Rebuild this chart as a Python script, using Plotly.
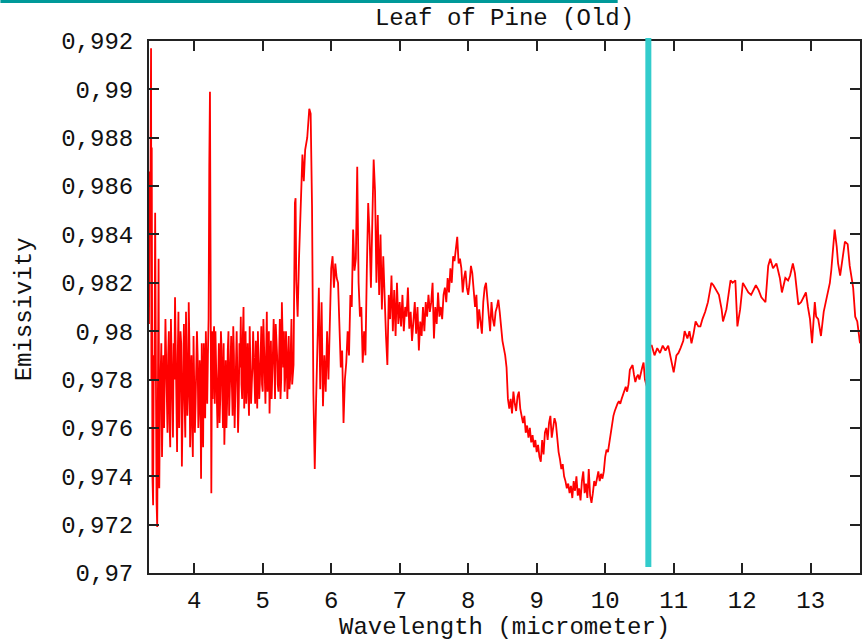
import plotly.graph_objects as go

# ---- data: (wavelength [micrometer], emissivity) ----
band_a = [
    (3.34, 0.9803), (3.35, 0.9866), (3.36, 0.9850), (3.37, 0.9917), (3.375, 0.9780),
    (3.38, 0.9876), (3.39, 0.9740), (3.40, 0.9728), (3.41, 0.9790), (3.42, 0.9780),
    (3.43, 0.9849), (3.44, 0.9750), (3.45, 0.9730), (3.46, 0.9719), (3.47, 0.9760),
    (3.48, 0.9830), (3.49, 0.9735), (3.50, 0.9770), (3.52, 0.9795), (3.53, 0.9748),
    (3.55, 0.9790), (3.56, 0.9760), (3.58, 0.9805), (3.60, 0.9772),
]
band_b = [
    (3.62, 0.9790), (3.64, 0.9762), (3.66, 0.9805), (3.68, 0.9770), (3.70, 0.9795),
    (3.72, 0.9814), (3.74, 0.9768), (3.76, 0.9790), (3.78, 0.9760), (3.80, 0.9800),
    (3.82, 0.9744), (3.84, 0.9785), (3.86, 0.9770), (3.88, 0.9808), (3.90, 0.9765),
    (3.92, 0.9812), (3.94, 0.9752), (3.96, 0.9790), (3.98, 0.9748), (4.00, 0.9782),
    (4.02, 0.9770), (4.04, 0.9800), (4.06, 0.9760), (4.08, 0.9788), (4.10, 0.9739),
    (4.12, 0.9775), (4.14, 0.9795), (4.16, 0.9764), (4.18, 0.9790), (4.20, 0.9790),
    (4.22, 0.9868), (4.23, 0.9899), (4.24, 0.9820), (4.25, 0.9733), (4.26, 0.9800),
    (4.28, 0.9795), (4.30, 0.9770),
]
band_b_fill = [
    (3.61, 0.9758), (3.63, 0.9800), (3.65, 0.9752), (3.67, 0.9790), (3.69, 0.9756),
    (3.71, 0.9780), (3.73, 0.9798), (3.75, 0.9750), (3.77, 0.9808), (3.79, 0.9775),
    (3.81, 0.9795), (3.83, 0.9766), (3.85, 0.9803), (3.87, 0.9756), (3.89, 0.9788),
    (3.91, 0.9774), (3.93, 0.9795), (3.95, 0.9780), (3.97, 0.9760), (3.99, 0.9798),
    (4.01, 0.9758), (4.03, 0.9785), (4.05, 0.9790), (4.07, 0.9768), (4.09, 0.9780),
    (4.11, 0.9795), (4.13, 0.9752), (4.15, 0.9778), (4.17, 0.9800), (4.19, 0.9770),
    (4.21, 0.9805), (4.27, 0.9772), (4.29, 0.9802),
]
band_c = [
    (4.32, 0.9785), (4.34, 0.9760), (4.36, 0.9795), (4.38, 0.9772), (4.40, 0.9792),
    (4.42, 0.9760), (4.44, 0.9753), (4.46, 0.9788), (4.48, 0.9770), (4.50, 0.9800),
    (4.52, 0.9775), (4.54, 0.9798), (4.56, 0.9765), (4.58, 0.9790), (4.60, 0.9771),
    (4.62, 0.9800), (4.64, 0.9758), (4.66, 0.9795), (4.68, 0.9806), (4.70, 0.9772),
    (4.72, 0.9810), (4.74, 0.9780), (4.76, 0.9770), (4.78, 0.9795), (4.80, 0.9765),
    (4.82, 0.9790), (4.84, 0.9778), (4.86, 0.9800), (4.88, 0.9775), (4.90, 0.9796),
    (4.92, 0.9768), (4.94, 0.9788), (4.96, 0.9780), (4.98, 0.9802), (5.00, 0.9775),
    (5.02, 0.9795), (5.04, 0.9770), (5.06, 0.9808), (5.08, 0.9785), (5.10, 0.9766),
    (5.12, 0.9796), (5.14, 0.9780), (5.16, 0.9805), (5.18, 0.9772), (5.20, 0.9798),
    (5.22, 0.9778), (5.24, 0.9790), (5.26, 0.9772), (5.28, 0.9812), (5.30, 0.9785),
    (5.32, 0.9775), (5.34, 0.9800), (5.36, 0.9772), (5.38, 0.9798), (5.40, 0.9780),
    (5.42, 0.9805), (5.44, 0.9786),
]
band_c_fill = [
    (4.31, 0.9800), (4.33, 0.9770), (4.35, 0.9780), (4.37, 0.9762), (4.39, 0.9800),
    (4.41, 0.9775), (4.43, 0.9795), (4.45, 0.9768), (4.47, 0.9760), (4.49, 0.9792),
    (4.51, 0.9765), (4.53, 0.9790), (4.55, 0.9778), (4.57, 0.9802), (4.59, 0.9760),
    (4.61, 0.9788), (4.63, 0.9782), (4.65, 0.9770), (4.67, 0.9785), (4.69, 0.9778),
    (4.71, 0.9798), (4.73, 0.9768), (4.75, 0.9800), (4.77, 0.9788), (4.79, 0.9775),
    (4.81, 0.9802), (4.83, 0.9770), (4.85, 0.9785), (4.87, 0.9790), (4.89, 0.9770),
    (4.91, 0.9782), (4.93, 0.9800), (4.95, 0.9772), (4.97, 0.9790), (4.99, 0.9778),
    (5.01, 0.9805), (5.03, 0.9780), (5.05, 0.9790), (5.07, 0.9775), (5.09, 0.9800),
    (5.11, 0.9785), (5.13, 0.9772), (5.15, 0.9792), (5.17, 0.9786), (5.19, 0.9803),
    (5.21, 0.9790), (5.23, 0.9775), (5.25, 0.9805), (5.27, 0.9780), (5.29, 0.9795),
    (5.31, 0.9800), (5.33, 0.9782), (5.35, 0.9790), (5.37, 0.9785), (5.39, 0.9776),
    (5.41, 0.9792), (5.43, 0.9778),
]
band_d = [
    (5.45, 0.9786), (5.47, 0.9853), (5.48, 0.9855), (5.49, 0.9821), (5.51, 0.9806),
    (5.53, 0.9830), (5.55, 0.9851), (5.58, 0.9873), (5.60, 0.9862), (5.62, 0.9875),
    (5.65, 0.9880), (5.68, 0.9892), (5.70, 0.9890), (5.72, 0.9852), (5.74, 0.9774),
    (5.76, 0.9743), (5.78, 0.9772), (5.80, 0.9800), (5.82, 0.9818), (5.84, 0.9776),
    (5.86, 0.9812), (5.88, 0.9769), (5.90, 0.9790), (5.92, 0.9775), (5.94, 0.9800),
    (5.96, 0.9780), (5.98, 0.9807), (6.00, 0.9826), (6.02, 0.9831), (6.04, 0.9818),
    (6.06, 0.9828), (6.08, 0.9822), (6.10, 0.9820), (6.12, 0.9800), (6.14, 0.9785),
    (6.16, 0.9792), (6.18, 0.9762), (6.20, 0.9780), (6.22, 0.9787), (6.24, 0.9800),
    (6.26, 0.9790), (6.28, 0.9815), (6.30, 0.9810), (6.32, 0.9842), (6.34, 0.9825),
    (6.36, 0.9830), (6.38, 0.9868), (6.40, 0.9820), (6.42, 0.9806), (6.44, 0.9810),
    (6.46, 0.9787), (6.48, 0.9800), (6.50, 0.9790), (6.52, 0.9825), (6.54, 0.9853),
    (6.56, 0.9840), (6.58, 0.9818), (6.60, 0.9845), (6.62, 0.9871), (6.64, 0.9858),
    (6.66, 0.9820), (6.68, 0.9848), (6.70, 0.9815), (6.72, 0.9840), (6.74, 0.9809),
    (6.76, 0.9831), (6.78, 0.9812), (6.80, 0.9798), (6.82, 0.9786), (6.84, 0.9815),
    (6.86, 0.9805), (6.88, 0.9823), (6.90, 0.9800), (6.92, 0.9817), (6.94, 0.9798),
    (6.96, 0.9820), (6.98, 0.9803),
]
band_e = [
    (7.00, 0.9812), (7.02, 0.9802), (7.04, 0.9815), (7.06, 0.9800), (7.08, 0.9810),
    (7.10, 0.9806), (7.12, 0.9818), (7.14, 0.9801), (7.16, 0.9808), (7.18, 0.9796),
    (7.20, 0.9805), (7.22, 0.9812), (7.24, 0.9799), (7.26, 0.9810), (7.28, 0.9792),
    (7.30, 0.9804), (7.32, 0.9798), (7.34, 0.9810), (7.36, 0.9800), (7.38, 0.9812),
    (7.40, 0.9806), (7.42, 0.9815), (7.44, 0.9808), (7.46, 0.9812), (7.48, 0.9820),
    (7.50, 0.9797), (7.52, 0.9810), (7.54, 0.9803), (7.56, 0.9816), (7.58, 0.9806),
    (7.60, 0.9810), (7.62, 0.9805), (7.64, 0.9815), (7.66, 0.9818), (7.68, 0.9812),
    (7.70, 0.9822), (7.72, 0.9816), (7.74, 0.9826), (7.76, 0.9820), (7.78, 0.9831),
    (7.80, 0.9829), (7.82, 0.9835), (7.84, 0.9839), (7.86, 0.9828), (7.88, 0.9830),
    (7.90, 0.9826), (7.92, 0.9816), (7.94, 0.9822), (7.96, 0.9825), (7.98, 0.9818),
]
band_f = [
    (8.00, 0.9815), (8.02, 0.9820), (8.04, 0.9827), (8.06, 0.9824), (8.08, 0.9815),
    (8.10, 0.9810), (8.12, 0.9815), (8.14, 0.9801), (8.16, 0.9809), (8.18, 0.9803),
    (8.20, 0.9799), (8.22, 0.9812), (8.24, 0.9818), (8.26, 0.9820), (8.28, 0.9812),
    (8.30, 0.9806), (8.32, 0.9800), (8.34, 0.9812), (8.36, 0.9805), (8.38, 0.9802),
    (8.40, 0.9808), (8.42, 0.9810), (8.44, 0.9813), (8.46, 0.9808), (8.48, 0.9800),
    (8.50, 0.9796), (8.52, 0.9793), (8.54, 0.9790), (8.56, 0.9785), (8.58, 0.9772),
    (8.60, 0.9768), (8.62, 0.9772), (8.64, 0.9766), (8.66, 0.9775), (8.68, 0.9770),
    (8.70, 0.9767), (8.72, 0.9773), (8.74, 0.9775), (8.76, 0.9768), (8.78, 0.9765),
    (8.80, 0.9762), (8.82, 0.9765), (8.84, 0.9758), (8.86, 0.9761), (8.88, 0.9756),
    (8.90, 0.9760), (8.92, 0.9754), (8.94, 0.9757), (8.96, 0.9752), (8.98, 0.9755),
]
band_g = [
    (9.00, 0.9750), (9.02, 0.9753), (9.04, 0.9748), (9.06, 0.9746), (9.08, 0.9755),
    (9.10, 0.9749), (9.12, 0.9758), (9.14, 0.9760), (9.16, 0.9755), (9.18, 0.9762),
    (9.20, 0.9765), (9.22, 0.9756), (9.24, 0.9760), (9.26, 0.9764), (9.28, 0.9762),
    (9.30, 0.9755), (9.32, 0.9750), (9.34, 0.9747), (9.36, 0.9743), (9.38, 0.9745),
    (9.40, 0.9740), (9.42, 0.9738), (9.44, 0.9735), (9.46, 0.9737), (9.48, 0.9733),
    (9.50, 0.9736), (9.52, 0.9731), (9.54, 0.9738), (9.56, 0.9734), (9.58, 0.9740),
    (9.60, 0.9732), (9.62, 0.9735), (9.64, 0.9730), (9.66, 0.9738), (9.68, 0.9742),
    (9.70, 0.9733), (9.72, 0.9737), (9.74, 0.9731), (9.76, 0.9743), (9.78, 0.9732),
    (9.80, 0.9729), (9.82, 0.9733), (9.84, 0.9738), (9.86, 0.9736), (9.88, 0.9740),
    (9.90, 0.9742), (9.92, 0.9738), (9.94, 0.9741), (9.96, 0.9739), (9.98, 0.9742),
]
band_h = [
    (10.00, 0.9748), (10.02, 0.9751), (10.04, 0.9750), (10.06, 0.9754), (10.08, 0.9758),
    (10.10, 0.9762), (10.12, 0.9765), (10.14, 0.9767), (10.16, 0.9769), (10.18, 0.9770),
    (10.20, 0.9771), (10.22, 0.9770), (10.24, 0.9772), (10.26, 0.9774), (10.28, 0.9776),
    (10.30, 0.9777), (10.32, 0.9775), (10.34, 0.9778), (10.36, 0.9784), (10.38, 0.9785),
    (10.40, 0.9786), (10.42, 0.9782), (10.44, 0.9779), (10.46, 0.9781), (10.48, 0.9782),
    (10.50, 0.9780), (10.52, 0.9783), (10.54, 0.9785), (10.56, 0.9787), (10.58, 0.9780),
    (10.60, 0.9778), (10.62, 0.9776), (10.64, 0.9790), (10.66, 0.9794),
]
band_i = [
    (10.68, 0.9794), (10.72, 0.9790), (10.76, 0.9793), (10.80, 0.9791), (10.84, 0.9794),
    (10.88, 0.9792), (10.92, 0.9794), (10.96, 0.9789), (11.00, 0.9783), (11.04, 0.9790),
    (11.07, 0.9791), (11.10, 0.9793), (11.14, 0.9796), (11.16, 0.9800), (11.20, 0.9797),
    (11.23, 0.9800), (11.26, 0.9795), (11.29, 0.9799), (11.32, 0.9804), (11.36, 0.9802),
    (11.39, 0.9802), (11.42, 0.9805), (11.46, 0.9808), (11.50, 0.9812), (11.53, 0.9817),
    (11.55, 0.9820), (11.58, 0.9819), (11.62, 0.9817), (11.66, 0.9815), (11.70, 0.9809),
    (11.72, 0.9804), (11.75, 0.9807), (11.77, 0.9809), (11.80, 0.9815), (11.83, 0.9821),
    (11.86, 0.9820), (11.90, 0.9821), (11.93, 0.9802), (11.97, 0.9809), (12.01, 0.9820),
]
band_j = [
    (12.05, 0.9818), (12.09, 0.9816), (12.13, 0.9815), (12.16, 0.9817), (12.20, 0.9819),
    (12.24, 0.9817), (12.28, 0.9814), (12.31, 0.9813), (12.34, 0.9812), (12.38, 0.9827),
    (12.41, 0.9830), (12.45, 0.9826), (12.50, 0.9828), (12.55, 0.9822), (12.58, 0.9816),
    (12.63, 0.9822), (12.67, 0.9821), (12.70, 0.9823), (12.74, 0.9828), (12.77, 0.9824),
    (12.82, 0.9811), (12.86, 0.9812), (12.90, 0.9814), (12.93, 0.9816), (12.96, 0.9810),
    (12.99, 0.9805), (13.02, 0.9795), (13.06, 0.9812), (13.08, 0.9806), (13.11, 0.9805),
    (13.15, 0.9798), (13.19, 0.9808), (13.22, 0.9812), (13.25, 0.9816), (13.28, 0.9820),
    (13.30, 0.9825), (13.33, 0.9838), (13.35, 0.9842), (13.38, 0.9835), (13.40, 0.9828),
    (13.43, 0.9823), (13.46, 0.9830), (13.50, 0.9837), (13.54, 0.9836), (13.57, 0.9827),
    (13.62, 0.9818), (13.65, 0.9806), (13.68, 0.9804), (13.72, 0.9795),
]

x_ticks = [4, 5, 6, 7, 8, 9, 10, 11, 12, 13]
y_ticks = [0.97, 0.972, 0.974, 0.976, 0.978, 0.98, 0.982, 0.984, 0.986, 0.988, 0.99, 0.992]
y_tick_text = ["0,97", "0,972", "0,974", "0,976", "0,978", "0,98", "0,982",
               "0,984", "0,986", "0,988", "0,99", "0,992"]
marker_wavelength = 10.63
x_range = [3.34, 13.72]
y_range = [0.97, 0.992]

title_text = "Leaf of Pine (Old)"
x_title = "Wavelength (micrometer)"
y_title = "Emissivity"

# ---- build ----
points = sorted(band_a + band_b + band_b_fill + band_c + band_c_fill + band_d + band_e
                + band_f + band_g + band_h + band_i + band_j, key=lambda p: p[0])
wavelength = [p[0] for p in points]
emissivity = [p[1] for p in points]

FONT = "Liberation Mono, Courier New, monospace"
FS = 24
W, H = 863, 643
L, R, T, B = 149, 1, 41, 70

fig = go.Figure()
fig.add_trace(go.Scatter(x=wavelength, y=emissivity, mode="lines",
                         line=dict(color="#ff0000", width=1.8), showlegend=False))

axis_common = dict(showgrid=False, zeroline=False, showline=True, linecolor="#222222",
                   linewidth=2, mirror="ticks", ticks="inside", ticklen=10,
                   tickwidth=1.5, tickcolor="#222222",
                   tickfont=dict(family=FONT, size=FS, color="#111111"))

fig.update_xaxes(range=x_range, tickvals=x_ticks, ticklabelstandoff=4, **axis_common)
fig.update_yaxes(range=y_range, tickvals=y_ticks, ticktext=y_tick_text,
                 ticklabelstandoff=9, **axis_common)

plot_h = H - T - B
plot_w = W - L - R

fig.update_layout(
    width=W, height=H,
    margin=dict(l=L, r=R, t=T, b=B, pad=0),
    paper_bgcolor="white", plot_bgcolor="white",
    title=dict(text=title_text, x=0.5, xref="paper", y=1 - 17 / H, yref="container",
               xanchor="center", yanchor="middle",
               font=dict(family=FONT, size=FS, color="#111111")),
    annotations=[
        dict(text=x_title, xref="paper", yref="paper", x=0.5, y=-(627 - (T + plot_h)) / plot_h,
             xanchor="center", yanchor="middle", showarrow=False,
             font=dict(family=FONT, size=FS, color="#111111")),
        dict(text=y_title, xref="paper", yref="paper", x=(24 - L) / plot_w,
             y=(T + plot_h - 309) / plot_h, xanchor="center", yanchor="middle",
             textangle=-90, showarrow=False,
             font=dict(family=FONT, size=FS, color="#111111")),
    ],
    shapes=[
        dict(type="line", xref="x", yref="paper", x0=marker_wavelength, x1=marker_wavelength,
             y0=(T + plot_h - 567) / plot_h, y1=(T + plot_h - 38) / plot_h,
             line=dict(color="#33cccc", width=6)),
        dict(type="rect", xref="paper", yref="paper", x0=-L / plot_w, x1=(619 - L) / plot_w,
             y0=(T + plot_h - 3) / plot_h, y1=(T + plot_h + 1) / plot_h,
             fillcolor="#009999", line=dict(width=0)),
    ],
)

fig.write_html("out.html", config={"displayModeBar": False})
